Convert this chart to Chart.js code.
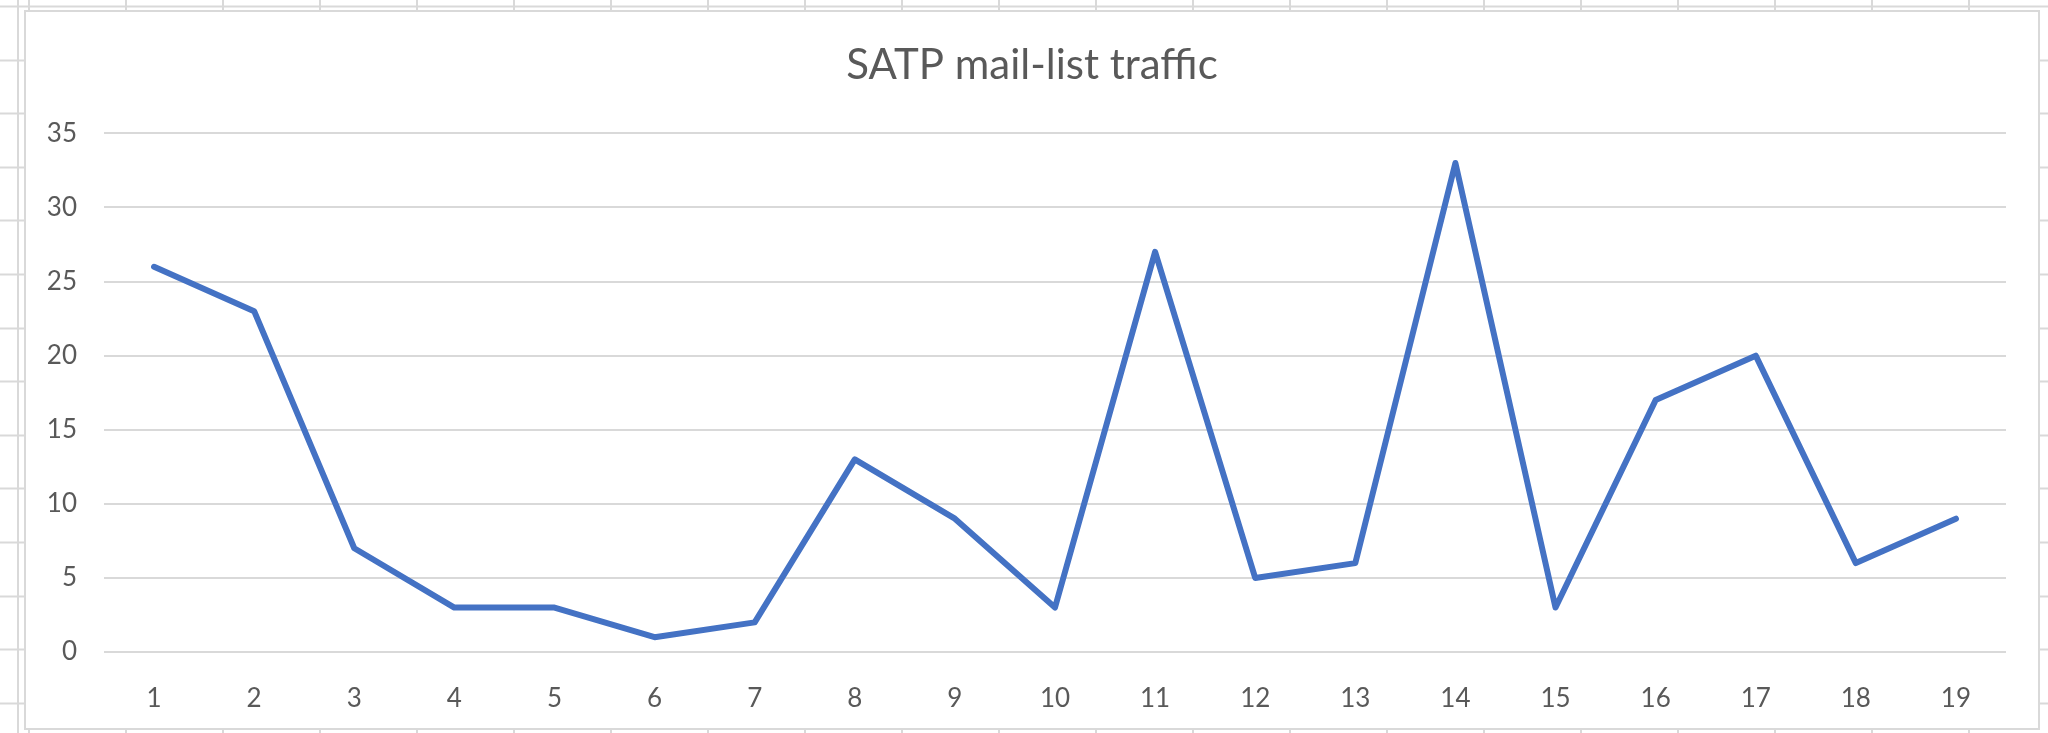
<!DOCTYPE html>
<html>
<head>
<meta charset="utf-8">
<script src="https://cdn.jsdelivr.net/npm/chart.js@4.4.0/dist/chart.umd.min.js"></script>
<style>
  html, body { margin: 0; padding: 0; }
  body {
    width: 2048px; height: 733px; overflow: hidden;
    background-color: #fff;
    /* spreadsheet cells behind the chart */
    background-image:
      repeating-linear-gradient(to bottom, #d9d9d9 0 2px, transparent 2px 53.6px),
      repeating-linear-gradient(to right, #d9d9d9 0 2px, transparent 2px 97px);
    background-position: 0 5.5px, 28px 0;
  }
  #box {
    position: absolute; left: 24px; top: 10px;
    width: 2012px; height: 716px;
    border: 2px solid #d9d9d9; background: #fff;
  }
  canvas { display: block; }
</style>
</head>
<body>
<div id="box"><canvas id="traffic" width="2012" height="716"></canvas></div>
<script>
var weeks = ['1','2','3','4','5','6','7','8','9','10','11','12','13','14','15','16','17','18','19'];
var messages = [26, 23, 7, 3, 3, 1, 2, 13, 9, 3, 27, 5, 6, 33, 3, 17, 20, 6, 9];
var yTicks = [0, 5, 10, 15, 20, 25, 30, 35];

var ctx = document.getElementById('traffic').getContext('2d');
var chart = new Chart(ctx, {
    type: 'line',
    data: {
        labels: weeks,
        datasets: [{
            label: 'SATP mail-list traffic',
            data: messages,
            borderColor: '#4472C4',
            borderWidth: 6,
            borderCapStyle: 'round',
            borderJoinStyle: 'round',
            pointRadius: 0,
            tension: 0,
            fill: false
        }]
    },
    options: {
        responsive: false,
        animation: false,
        layout: { padding: 0 },
        plugins: {
            legend: { display: false },
            tooltip: { enabled: false },
            title: {
                display: true,
                text: 'SATP mail-list traffic',
                color: '#595959',
                font: { family: 'Lato', size: 42, weight: 'normal' },
                padding: { top: 28, bottom: 43 }
            }
        },
        scales: {
            x: {
                offset: true,
                grid: { display: false },
                border: { display: false },
                ticks: { color: '#595959', font: { family: 'Lato', size: 26 }, padding: 23, maxRotation: 0 },
                afterFit: function (s) { s.height = 76; }
            },
            y: {
                min: yTicks[0],
                max: yTicks[yTicks.length - 1],
                afterBuildTicks: function (s) { s.ticks = yTicks.map(function (v) { return { value: v }; }); },
                grid: { color: '#d9d9d9', lineWidth: 2, drawTicks: false },
                border: { display: false },
                ticks: { color: '#595959', font: { family: 'Lato', size: 26 }, padding: 27 },
                afterFit: function (s) { s.width = 78; }
            },
            // empty right margin, keeps the title centred on the whole box
            yRight: {
                position: 'right',
                grid: { display: false },
                border: { display: false },
                ticks: { display: false },
                afterFit: function (s) { s.width = 32; }
            }
        }
    }
});
</script>
</body>
</html>
